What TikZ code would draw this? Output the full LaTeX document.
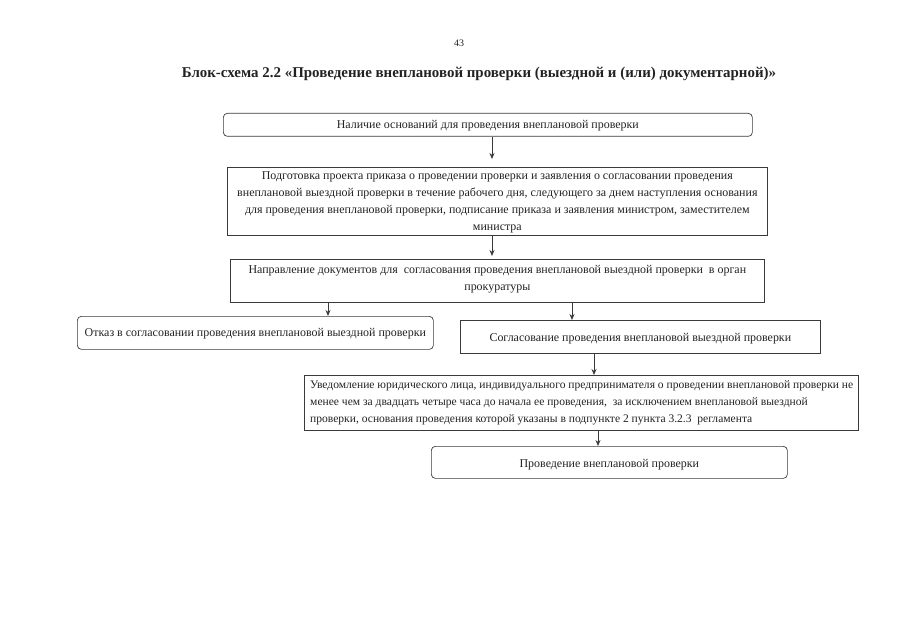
\documentclass[tikz,border=0pt]{standalone}
\usepackage{fontspec}
\setmainfont{Liberation Serif}
\usetikzlibrary{arrows.meta}
\definecolor{ink}{HTML}{222222}
\definecolor{frame}{HTML}{3A3A3A}
\tikzset{
  box/.style={draw=frame, line width=0.7bp, inner sep=0pt, anchor=north west},
  rbox/.style={box, rounded corners=4bp},
  lbl/.style={text=ink, inner sep=0pt, font=\fontsize{12}{17}\selectfont, align=center},
  arr/.style={draw=frame, line width=0.7bp, -{Stealth[length=6bp,width=5bp]}},
}
\begin{document}
\begin{tikzpicture}[x=1bp,y=-1bp]
\useasboundingbox (0,0) rectangle (905,640);
\node[text=ink, font=\fontsize{10}{12}\selectfont] (pg) at (459,43) {43};
\node[text=ink, font=\fontsize{15}{18}\selectfont\bfseries] (title) at (479,74)
  {Блок-схема 2.2 «Проведение внеплановой проверки (выездной и (или) документарной)»};

\node[rbox, minimum width=529bp, minimum height=23bp] (b1) at (223,113) {};
\node[lbl] at ([yshift=-0.5bp]b1.center) {Наличие оснований для проведения внеплановой проверки};

\node[box, minimum width=540bp, minimum height=68bp] (b2) at (227,167) {};
\node[lbl] at ([yshift=-1bp]b2.center)
  {Подготовка проекта приказа о проведении проверки и заявления о согласовании проведения\\
   внеплановой выездной проверки в течение рабочего дня, следующего за днем наступления основания\\
   для проведения внеплановой проверки, подписание приказа и заявления министром, заместителем\\
   министра};

\node[box, minimum width=534bp, minimum height=43bp] (b3) at (230,259) {};
\node[lbl] at ([yshift=2bp]b3.center)
  {Направление документов для \ согласования проведения внеплановой выездной проверки \ в орган\\
   прокуратуры};

\node[rbox, minimum width=356bp, minimum height=33bp] (b4) at (77,316) {};
\node[lbl] at ([yshift=-1bp]b4.center) {Отказ в согласовании проведения внеплановой выездной проверки};

\node[box, minimum width=360bp, minimum height=33bp] (b5) at (460,320) {};
\node[lbl] at ([yshift=-2bp]b5.center) {Согласование проведения внеплановой выездной проверки};

\node[box, minimum width=554bp, minimum height=55bp] (b6) at (304,375) {};
\node[lbl, font=\fontsize{11.6}{17.5}\selectfont, align=left, anchor=west] at ([xshift=6bp]b6.west)
  {Уведомление юридического лица, индивидуального предпринимателя о проведении внеплановой проверки не\\
   менее чем за двадцать четыре часа до начала ее проведения, \ за исключением внеплановой выездной\\
   проверки, основания проведения которой указаны в подпункте 2 пункта 3.2.3 \ регламента};

\node[rbox, minimum width=356bp, minimum height=32bp] (b7) at (431,446) {};
\node[lbl] at ([yshift=-2bp]b7.center) {Проведение внеплановой проверки};

\coordinate (x1) at (492,0);
\coordinate (x2) at (328,0);
\coordinate (x3) at (572,0);
\coordinate (x4) at (594,0);
\coordinate (x5) at (598,0);
\draw[arr, shorten >=8bp] (b1.south -| x1) -- (b2.north -| x1);
\draw[arr, shorten >=3bp] (b2.south -| x1) -- (b3.north -| x1);
\draw[arr] (b3.south -| x2) -- (b4.north -| x2);
\draw[arr] (b3.south -| x3) -- (b5.north -| x3);
\draw[arr] (b5.south -| x4) -- (b6.north -| x4);
\draw[arr] (b6.south -| x5) -- (b7.north -| x5);
\end{tikzpicture}
\end{document}
